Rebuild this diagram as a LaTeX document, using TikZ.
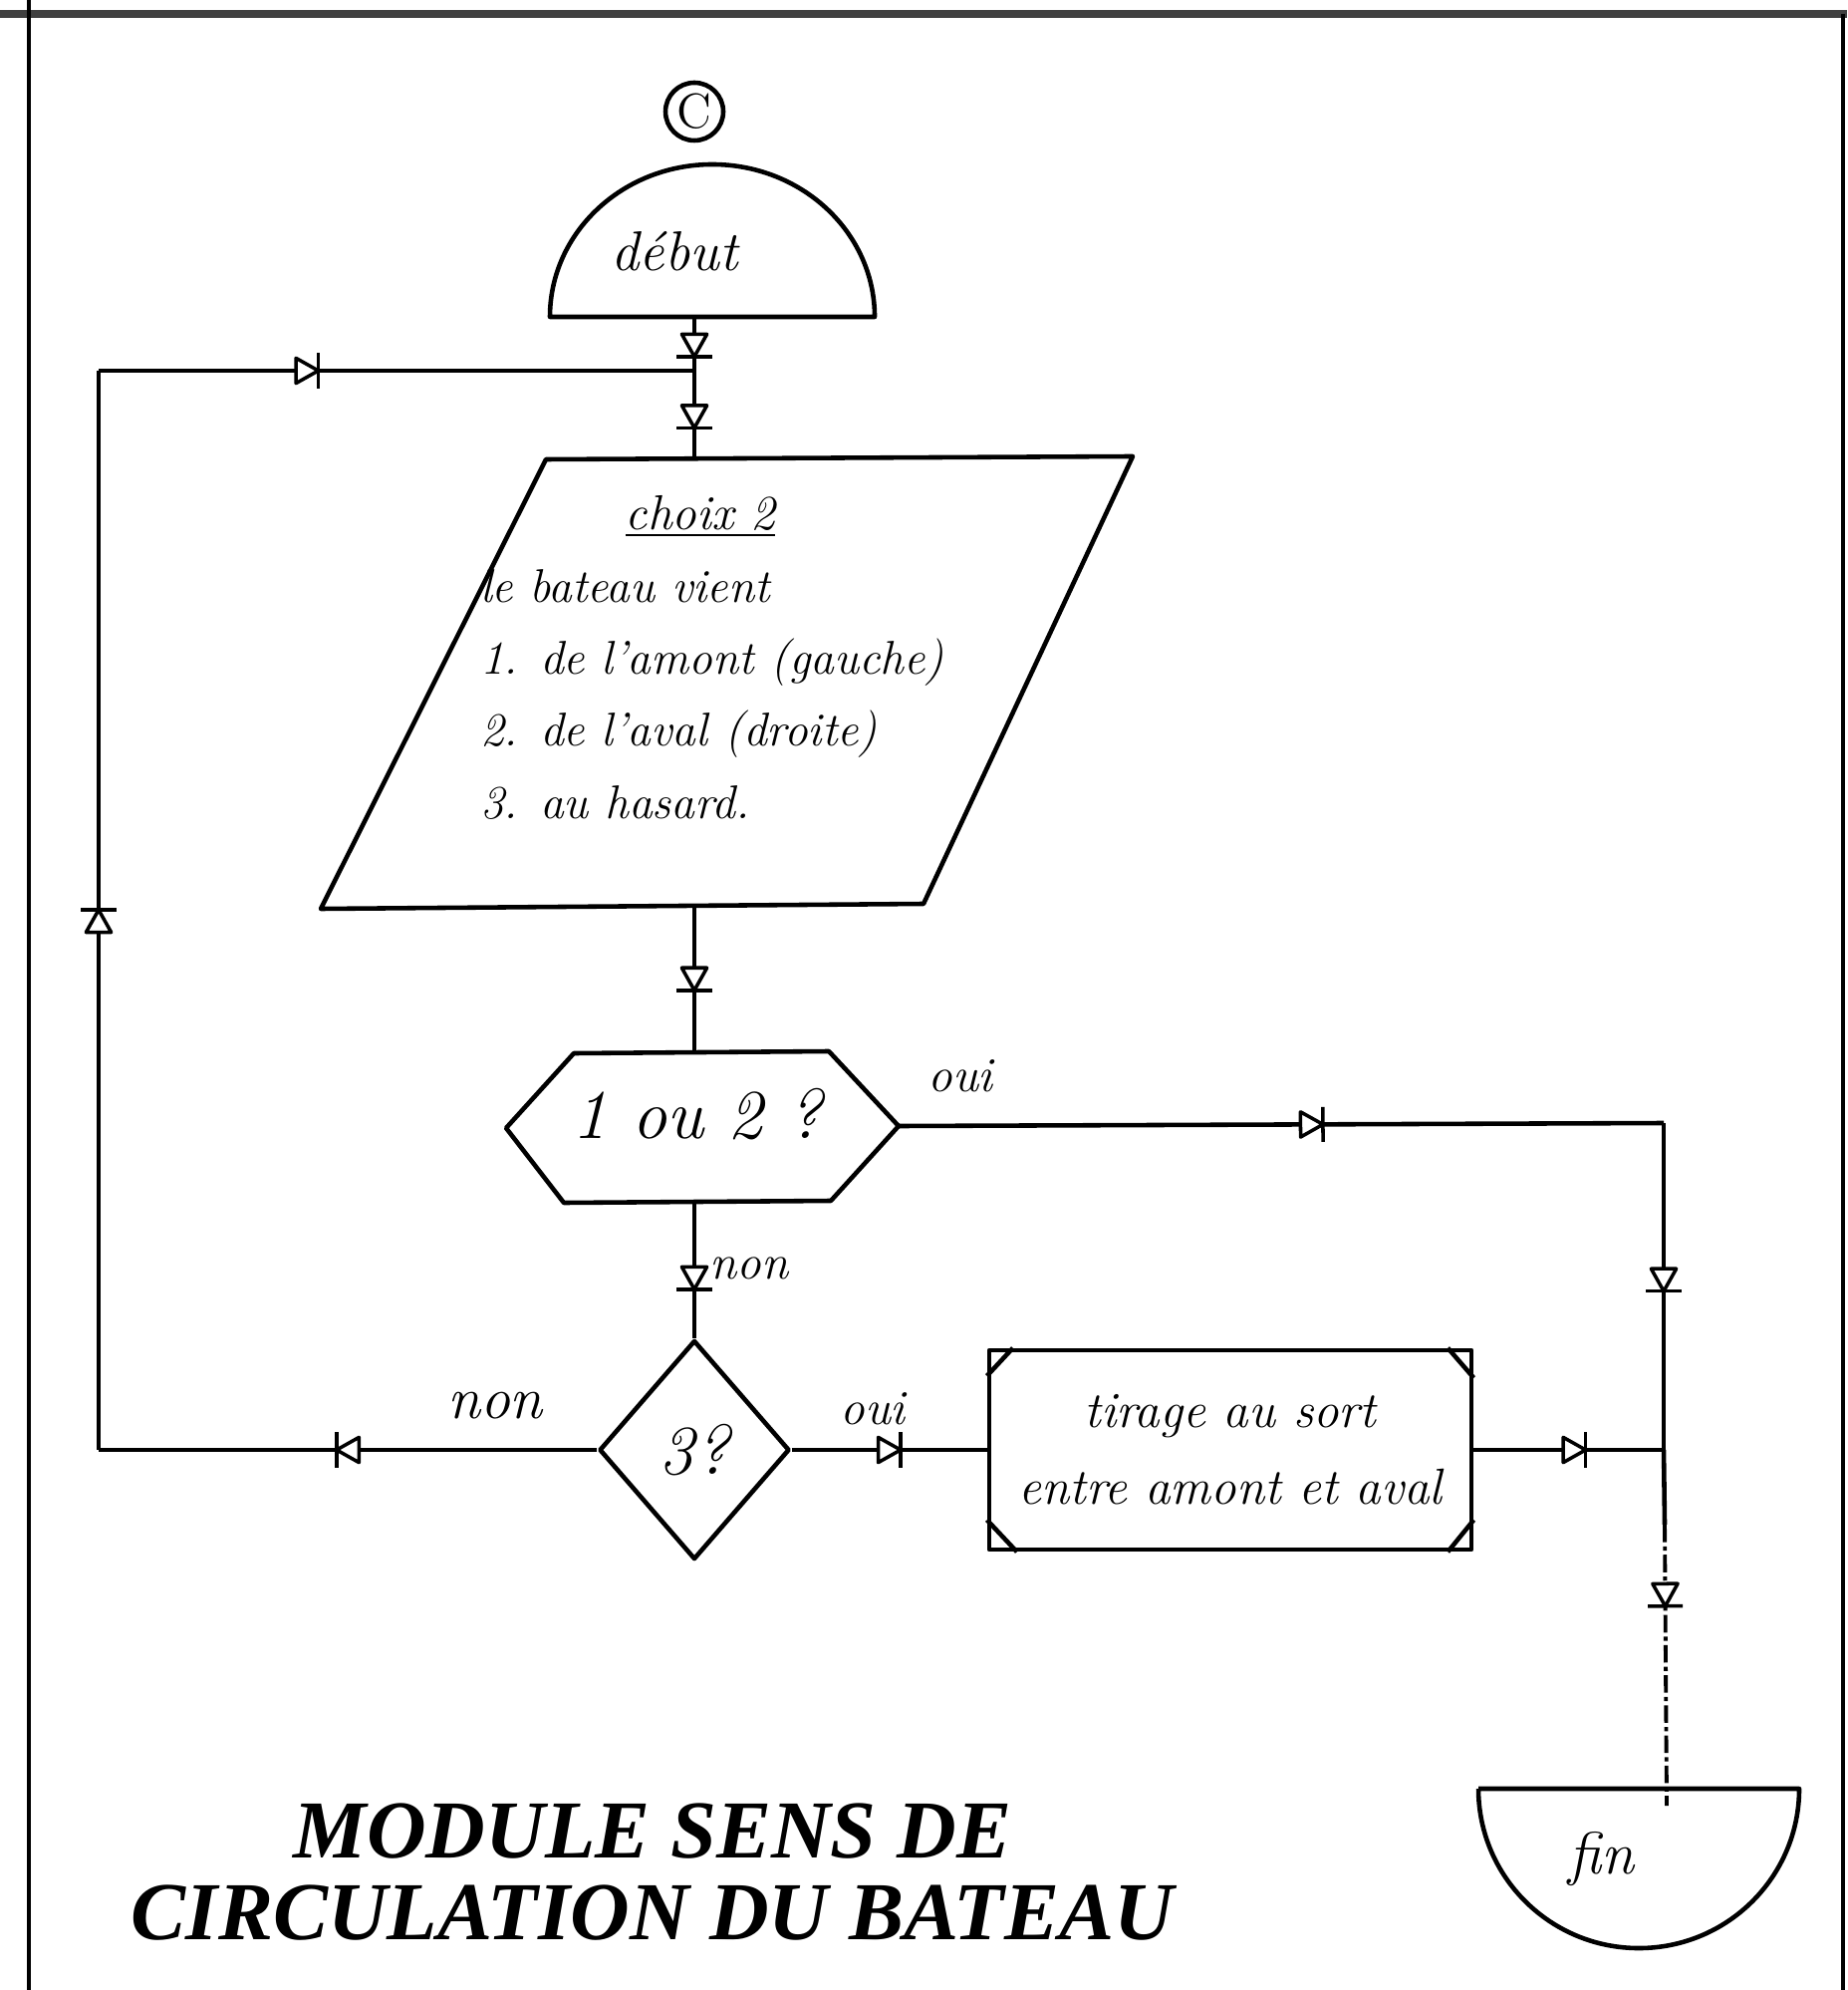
\documentclass[tikz,border=0pt]{standalone}
\usepackage{fontspec}
\newfontfamily\titlefont{Liberation Serif}
\usetikzlibrary{shapes.geometric,decorations.markings}

% diode-like flow mark, pointing along the path
\tikzset{
  flow at/.style={postaction={decorate,decoration={markings,
    mark=at position #1 with {
      \draw[solid,line width=1pt,fill=white] (-3.2pt,-3.6pt) -- (3.2pt,0pt) -- (-3.2pt,3.6pt) -- cycle;
      \draw[solid,line width=1pt] (3.2pt,-5pt) -- (3.2pt,5pt);}}}},
  trait/.style={line width=1.3pt, line join=round},
  hand/.style={font=\fontsize{#1}{#1}\selectfont\itshape, inner sep=1pt},
  hand/.default=15,
  titre/.style={anchor=base, inner sep=0pt, text depth=0pt,
    font=\titlefont\bfseries\itshape\fontsize{23.5}{23.5}\selectfont},
}

\begin{document}
\begin{tikzpicture}[x=0.1mm, y=-0.1mm, trait]
  \useasboundingbox (0,0) rectangle (1854,1997);
  % frame
  \draw[line width=2.2pt, black!75] (0,14) -- (1854,14);
  \draw[line width=1.2pt] (29,0) -- (29,1997);
  \draw[line width=1.2pt] (1850,14) -- (1850,1997);

  % connector C
  \node[draw, circle, minimum size=5.8mm, inner sep=0pt, font=\fontsize{14}{14}\selectfont] (C) at (697,112) {C};

  % debut
  \coordinate (debut) at (697,318);
  \draw (552,318) arc[start angle=180, end angle=360, x radius=163, y radius=153] -- cycle;
  \node[hand=16] (tdebut) at (677,252) {début};

  % choix 2
  \coordinate (par top) at (697,461);
  \coordinate (par bot) at (697,909);
  \draw (548,461) -- (1137,458) -- (927,907) -- (322,912) -- cycle;
  \node[hand=14] (choix) at (703,518) {\underline{choix 2}};
  \node[anchor=west, align=left, font=\fontsize{13.5}{20.5}\selectfont\itshape] (menu) at (468,697)
    {le bateau vient\\ 1. de l'amont (gauche)\\ 2. de l'aval (droite)\\ 3. au hasard.};

  % 1 ou 2 ?
  \coordinate (hex top) at (697,1056);
  \coordinate (hex bot) at (697,1206);
  \coordinate (hex east) at (902,1130);
  \draw (576,1057) -- (832,1055) -- (hex east) -- (834,1205) -- (566,1207) -- (508,1132) -- cycle;
  \node[hand=20] (q12) at (700,1118) {1 ou 2 ?};

  % 3 ?
  \node[draw, diamond, minimum width=19.1mm, minimum height=22mm, inner sep=0pt, hand=20] (q3) at (697,1455) {3?};

  % tirage
  \node[draw, rectangle, minimum width=48.4mm, minimum height=20mm, align=center,
        font=\fontsize{14.5}{22}\selectfont\itshape] (tirage) at (1235,1455)
        {tirage au sort\\ entre amont et aval};
  \draw (tirage.north west) ++(0,28) -- ++(26,-28);
  \draw (tirage.north east) ++(-26,0) -- ++(26,30);
  \draw (tirage.south west) ++(0,-32) -- ++(30,32);
  \draw (tirage.south east) ++(-26,0) -- ++(26,-32);

  % fin
  \coordinate (fin) at (1673,1812);
  \draw (1484,1795) -- (1806,1795) arc[start angle=0, end angle=180, x radius=161, y radius=160];
  \node[hand=17] (tfin) at (1607,1866) {fin};

  % loop and joints
  \coordinate (loop in) at (697,372);
  \coordinate (nw) at (99,372);
  \coordinate (sw) at (99,1455);
  \coordinate (ne) at (1670,1127);
  \coordinate (join) at (1670,1455);
  \coordinate (dots) at (1671,1530);

  % connectors
  \draw[flow at=0.2, flow at=0.7] (debut) -- (par top);
  \draw[flow at=0.5] (par bot) -- (hex top);
  \draw[flow at=0.56] (hex bot) -- (q3.north);
  \draw[flow at=0.54] (hex east) -- (ne);
  \draw[flow at=0.48] (ne) -- (join);
  \draw[flow at=0.5] (q3.east) -- (tirage.west);
  \draw[flow at=0.53] (tirage.east) -- (join);
  \draw (join) -- (dots);
  \draw[flow at=0.25, line width=1.1pt, dash pattern=on 5pt off 1.2pt on 1.2pt off 1.2pt] (dots) -- (fin);
  \draw[flow at=0.5] (q3.west) -- (sw);
  \draw[flow at=0.49] (sw) -- (nw);
  \draw[flow at=0.35] (nw) -- (loop in);

  % labels
  \node[hand=14] (l oui1) at (964,1080) {oui};
  \node[hand=14] (l non1) at (752,1273) {non};
  \node[hand=17] (l non2) at (497,1411) {non};
  \node[hand=14] (l oui2) at (876,1414) {oui};

  % title
  \node[titre] (titre1) at (655,1864) {MODULE SENS DE};
  \node[titre] (titre2) at (655,1946) {CIRCULATION DU BATEAU};
\end{tikzpicture}
\end{document}
